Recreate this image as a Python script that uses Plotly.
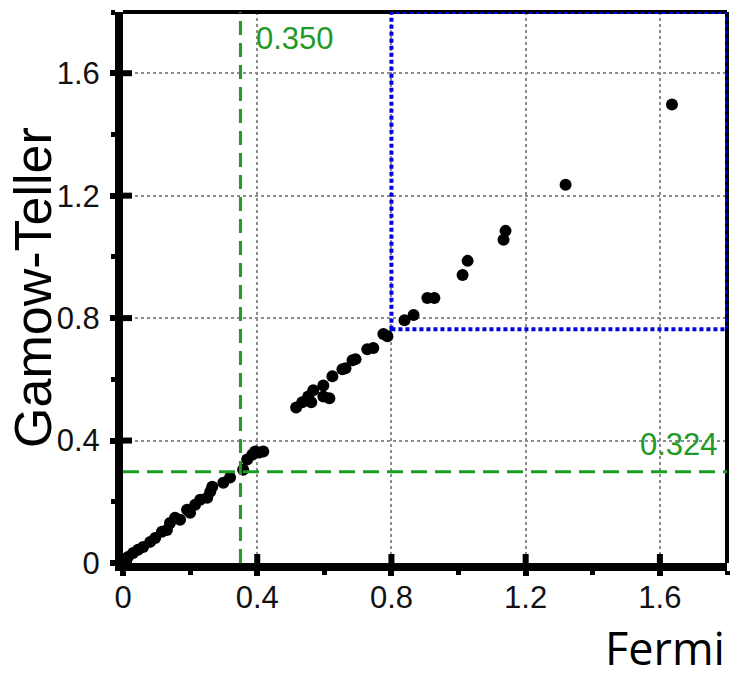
import plotly.graph_objects as go

# ---- data ----
fermi = [0.006, 0.015, 0.030, 0.045, 0.060, 0.081, 0.096, 0.116, 0.131, 0.140,
         0.155, 0.170, 0.191, 0.200, 0.215, 0.230, 0.251, 0.260, 0.266, 0.299,
         0.319, 0.358, 0.370, 0.385, 0.394, 0.406, 0.418,
         0.516, 0.534, 0.561, 0.552, 0.567, 0.597, 0.597, 0.615, 0.624, 0.654,
         0.663, 0.684, 0.693, 0.728, 0.746, 0.776, 0.788, 0.839, 0.866, 0.907,
         0.928, 1.012, 1.027, 1.134, 1.140, 1.319, 1.636]
gamow_teller = [0.013, 0.020, 0.033, 0.043, 0.052, 0.069, 0.082, 0.102, 0.108, 0.131,
                0.148, 0.141, 0.174, 0.164, 0.190, 0.207, 0.213, 0.233, 0.249, 0.262,
                0.279, 0.305, 0.338, 0.354, 0.364, 0.361, 0.364,
                0.508, 0.525, 0.525, 0.544, 0.564, 0.580, 0.544, 0.538, 0.610, 0.633,
                0.636, 0.662, 0.666, 0.698, 0.702, 0.748, 0.741, 0.793, 0.810, 0.866,
                0.866, 0.941, 0.987, 1.056, 1.085, 1.236, 1.498]

tick_vals = [0, 0.4, 0.8, 1.2, 1.6]
tick_text = ["0", "0.4", "0.8", "1.2", "1.6"]
axis_range = [0, 1.8]

vline_x = 0.350
vline_label = "0.350"
hline_y = 0.298
hline_label = "0.324"
box_x = [0.8, 1.8]
box_y = [0.764, 1.8]

GREEN = "#1f9a25"
BLUE = "#0000e6"
TICKFONT = dict(family="Liberation Sans, Arial", size=31, color="#111")

fig = go.Figure()
fig.add_trace(go.Scatter(
    x=fermi, y=gamow_teller, mode="markers",
    marker=dict(color="black", size=12, line=dict(width=0)),
    showlegend=False, cliponaxis=False))

common = dict(range=axis_range, tickvals=tick_vals, ticktext=tick_text,
              showgrid=True, gridcolor="#8c8c8c", griddash="dot", gridwidth=2,
              showline=True, linecolor="black", linewidth=8,
              ticks="outside", ticklen=5, tickwidth=6, tickcolor="black",
              minor=dict(dtick=0.2, ticks="outside", ticklen=4, tickwidth=5,
                         tickcolor="black", showgrid=False),
              tickfont=TICKFONT, zeroline=False, fixedrange=True)

fig.update_xaxes(**common, ticklabelstandoff=-5)
fig.update_yaxes(**common, ticklabelstandoff=4)

shapes = []
# top and right frame (thinner)
shapes.append(dict(type="line", xref="paper", yref="paper", x0=0, x1=1, y0=1, y1=1,
                   line=dict(color="black", width=4), layer="above"))
shapes.append(dict(type="line", xref="paper", yref="paper", x0=1, x1=1, y0=0, y1=1,
                   line=dict(color="black", width=4), layer="above"))
# inner parts of major ticks
for v in tick_vals:
    shapes.append(dict(type="line", xref="x", yref="y", xsizemode="pixel", xanchor=0,
                       x0=0, x1=9, y0=v, y1=v, line=dict(color="black", width=6),
                       layer="above"))
    shapes.append(dict(type="line", xref="x", yref="y", ysizemode="pixel", yanchor=0,
                       y0=0, y1=9, x0=v, x1=v, line=dict(color="black", width=6),
                       layer="above"))
# green dashed guide lines
shapes.append(dict(type="line", xref="x", yref="y", x0=vline_x, x1=vline_x,
                   y0=axis_range[0], y1=axis_range[1],
                   line=dict(color=GREEN, width=3, dash="14px,8px"), layer="above"))
shapes.append(dict(type="line", xref="x", yref="y", x0=axis_range[0], x1=axis_range[1],
                   y0=hline_y, y1=hline_y,
                   line=dict(color=GREEN, width=3, dash="16px,8px"), layer="above"))
# blue dotted box
shapes.append(dict(type="rect", xref="x", yref="y", x0=box_x[0], x1=box_x[1],
                   y0=box_y[0], y1=box_y[1],
                   line=dict(color=BLUE, width=4, dash="4px,3px"), layer="above"))

annotations = [
    dict(text=vline_label, xref="x", yref="y", x=0.39, y=1.712, xanchor="left",
         yanchor="middle", showarrow=False,
         font=dict(family="Liberation Sans, Arial", size=31, color=GREEN)),
    dict(text=hline_label, xref="x", yref="y", x=1.778, y=0.386, xanchor="right",
         yanchor="middle", showarrow=False,
         font=dict(family="Liberation Sans, Arial", size=31, color=GREEN)),
    dict(text="Gamow-Teller", xref="paper", yref="paper", x=-0.150, y=0.5,
         xanchor="center", yanchor="middle", textangle=-90, showarrow=False,
         font=dict(family="Liberation Sans, Arial", size=52, color="black")),
    dict(text="Fermi", xref="paper", yref="paper", x=1.0, y=-0.153,
         xanchor="right", yanchor="middle", showarrow=False,
         font=dict(family="Open Sans", size=45, color="black")),
]

fig.update_layout(
    width=734, height=678,
    margin=dict(l=123, r=7, t=12, b=115),
    paper_bgcolor="white", plot_bgcolor="white",
    shapes=shapes, annotations=annotations,
)

fig.write_html("out.html")
